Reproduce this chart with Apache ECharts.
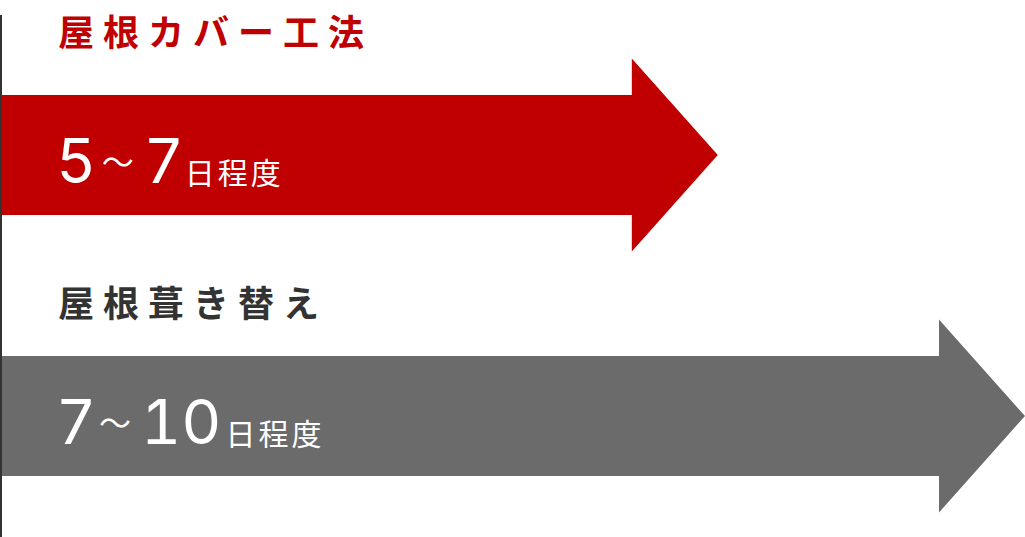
<!DOCTYPE html>
<html>
<head>
<meta charset="utf-8">
<script src="https://cdn.jsdelivr.net/npm/echarts@6/dist/echarts.min.js"></script>
<style>
html, body { margin: 0; padding: 0; background: #fff; }
#main { width: 1025px; height: 537px; }
/* svg text nodes, picked by font size */
#main text[style*="36px"] { letter-spacing: 9px; }
#main text[style*="62px"] { font-variant-numeric: tabular-nums; }
#main text[style*="30px"] { letter-spacing: 3px; }
</style>
</head>
<body>
<div id="main"></div>
<script>
// 工法ごとの工期（日）
var methods = ['屋根カバー工法', '屋根葺き替え'];
var minDays = [5, 7];
var maxDays = [7, 10];
var axisMaxDays = 10;

var arrowColors = ['#c00000', '#6b6b6b'];
var titleColors = ['#c00000', '#333333'];
var titleOffsets = [-125, -115];
var cjkFont = '"Noto Sans CJK JP", "Noto Sans CJK SC", sans-serif';
var numFont = 'Inter, Roboto, sans-serif';

function renderArrow(params, api) {
    var i = params.dataIndex;
    var base = api.coord([0, i]);
    var tip = api.coord([api.value(0), i]);
    var cy = tip[1];
    var neck = tip[0] - 86;
    var bodyHalf = 60;
    var headHalf = 96.5;
    var points = [
        [base[0] - 1, cy - bodyHalf],
        [neck, cy - bodyHalf],
        [neck, cy - headHalf],
        [tip[0], cy],
        [neck, cy + headHalf],
        [neck, cy + bodyHalf],
        [base[0] - 1, cy + bodyHalf]
    ];
    var lo = String(api.value(2));
    var hi = String(api.value(0));
    var rangeText = '{a|' + lo + '}{t|～}{b|' + hi + '}{u|日程度}';
    return {
        type: 'group',
        children: [{
            type: 'polygon',
            shape: { points: points },
            style: { fill: arrowColors[i] }
        }, {
            type: 'text',
            x: 58,
            y: cy + titleOffsets[i],
            style: {
                text: methods[i],
                fill: titleColors[i],
                fontSize: 36,
                fontWeight: 'bold',
                fontFamily: cjkFont,
                textVerticalAlign: 'middle'
            }
        }, {
            type: 'text',
            x: 56,
            y: cy + 36,
            style: {
                text: rangeText,
                fill: '#ffffff',
                textVerticalAlign: 'bottom',
                rich: {
                    a: { fontSize: 62, fontFamily: numFont, fontWeight: 'normal', lineHeight: 62, verticalAlign: 'bottom', padding: [0, 8 + (lo.length - 1) * 14, 0, 0], fill: '#fff' },
                    t: { fontSize: 32, fontFamily: cjkFont, fontWeight: 'normal', lineHeight: 62, verticalAlign: 'middle', padding: [0, 10, 0, 0], fill: '#fff' },
                    b: { fontSize: 62, fontFamily: numFont, fontWeight: 'normal', lineHeight: 62, verticalAlign: 'bottom', padding: [0, 6 + (hi.length - 1) * 14, 0, 0], fill: '#fff' },
                    u: { fontSize: 30, fontFamily: cjkFont, fontWeight: 'normal', lineHeight: 30, verticalAlign: 'bottom', padding: [0, 0, 5, 0], fill: '#fff' }
                }
            }
        }]
    };
}

var myChart = echarts.init(document.getElementById('main'), null, { renderer: 'svg' });
var option = {
    animation: false,
    backgroundColor: '#ffffff',
    grid: { left: 1, right: 0, top: 24.5, height: 522, outerBoundsMode: 'none', containLabel: false },
    xAxis: {
        type: 'value',
        min: 0,
        max: axisMaxDays,
        show: false
    },
    yAxis: {
        type: 'category',
        data: methods,
        inverse: true,
        z: 10,
        axisLine: { show: true, lineStyle: { color: '#333333', width: 2 } },
        axisTick: { show: false },
        axisLabel: { show: false },
        splitLine: { show: false }
    },
    graphic: [{
        type: 'line',
        z: 10,
        shape: { x1: 1, y1: 15, x2: 1, y2: 25 },
        style: { stroke: '#333333', lineWidth: 2 }
    }],
    series: [{
        type: 'custom',
        renderItem: renderArrow,
        encode: { x: 0, y: 1 },
        data: maxDays.map(function (d, i) { return [d, i, minDays[i]]; })
    }]
};
myChart.setOption(option);
</script>
</body>
</html>
